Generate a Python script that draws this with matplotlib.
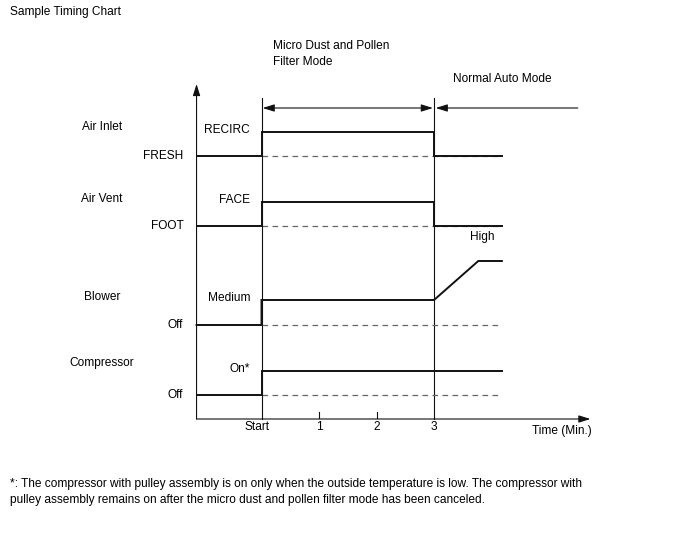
import matplotlib
matplotlib.use("Agg")
import matplotlib.pyplot as plt

plt.rcParams["font.family"] = ["Liberation Sans", "DejaVu Sans"]
plt.rcParams["font.size"] = 8.6

# time axis (minutes): Start = 0, mode change at 3
T_AXIS = -1.13
T_END = 4.18
MODE_CHANGE = 3
RAMP_END = 3.77
TICK_POS = [0, 1, 2, 3]
TICK_LABELS = ["Start", "1", "2", "3"]

ROW_NAMES = ["Air Inlet", "Air Vent", "Blower", "Compressor"]
ROW_NAME_Y = [292, 220, 122, 56]
LOW_LABELS = ["FRESH", "FOOT", "Off", "Off"]
HIGH_LABELS = ["RECIRC", "FACE", "Medium", "On*"]
LOW_LEVELS = [263, 193, 94, 24]
HIGH_LEVELS = [287, 217, 119, 48]
BLOWER_HIGH = 158

inlet_t = [T_AXIS, 0, 0, MODE_CHANGE, MODE_CHANGE, T_END]
inlet_y = [263, 263, 287, 287, 263, 263]
vent_t = [T_AXIS, 0, 0, MODE_CHANGE, MODE_CHANGE, T_END]
vent_y = [193, 193, 217, 217, 193, 193]
blower_t = [T_AXIS, 0, 0, MODE_CHANGE, RAMP_END, T_END]
blower_y = [94, 94, 119, 119, 158, 158]
comp_t = [T_AXIS, 0, 0, T_END]
comp_y = [24, 24, 48, 48]

FOOTNOTE = ("*: The compressor with pulley assembly is on only when the outside temperature is low. "
            "The compressor with\npulley assembly remains on after the micro dust and pollen filter mode "
            "has been canceled.")

fig = plt.figure(figsize=(6.88, 5.6), dpi=100)
ax = fig.add_axes([0, 0, 1, 1])
ax.set_xlim(-4.548, 7.417)
ax.set_ylim(-141, 419)
ax.axis("off")

ink = "#111111"
thin = 0.8
arrow_kw = dict(color=ink, lw=thin, shrinkA=0, shrinkB=0, mutation_scale=10)
head = "head_length=0.7,head_width=0.22"

# axes arrows
ax.annotate("", xy=(T_AXIS, 335), xytext=(T_AXIS, 0),
            arrowprops=dict(arrowstyle="-|>," + head, **arrow_kw))
ax.annotate("", xy=(5.72, 0), xytext=(T_AXIS, 0),
            arrowprops=dict(arrowstyle="-|>," + head, **arrow_kw))

# mode dividers
for t in [0, MODE_CHANGE]:
    ax.plot([t, t], [0, 321], color=ink, lw=thin)

# mode span arrows
ax.annotate("", xy=(0.02, 311), xytext=(MODE_CHANGE - 0.02, 311),
            arrowprops=dict(arrowstyle="<|-|>," + head, **arrow_kw))
ax.annotate("", xy=(MODE_CHANGE + 0.03, 311), xytext=(5.5, 311),
            arrowprops=dict(arrowstyle="-|>," + head, **arrow_kw))

# ticks
for t in [1, 2]:
    ax.plot([t, t], [1, 7], color=ink, lw=thin)
for t, lab in zip(TICK_POS, TICK_LABELS):
    ax.text(t - (0.08 if lab == "Start" else 0), -8.5, lab, ha="center", va="center")
ax.text(4.7, -12, "Time (Min.)", ha="left", va="center")

# dashed baselines
for lvl in LOW_LEVELS:
    ax.plot([0, T_END], [lvl, lvl], color="#666666", lw=0.9, ls=(0, (4.5, 3.5)))

# signal traces
for tt, yy in [(inlet_t, inlet_y), (vent_t, vent_y), (blower_t, blower_y), (comp_t, comp_y)]:
    ax.plot(tt, yy, color=ink, lw=1.4, solid_joinstyle="miter")

# labels
for name, ny, lo, hi, lv, hv in zip(ROW_NAMES, ROW_NAME_Y, LOW_LABELS, HIGH_LABELS,
                                     LOW_LEVELS, HIGH_LEVELS):
    ax.text(-2.774, ny, name, ha="center", va="center")
    ax.text(-1.36, lv, lo, ha="right", va="center")
    ax.text(-0.2, hv + 2, hi, ha="right", va="center")
ax.text(3.84, BLOWER_HIGH + 24, "High", ha="center", va="center")

ax.text(0.2, 379, "Micro Dust and Pollen\nFilter Mode", ha="left", va="top", linespacing=1.45)
ax.text(3.33, 340, "Normal Auto Mode", ha="left", va="center")

ax.text(-4.374, 407, "Sample Timing Chart", ha="left", va="center")
ax.text(-4.374, -59, FOOTNOTE, ha="left", va="top", linespacing=1.45)

fig.savefig("out.png", dpi=100)
